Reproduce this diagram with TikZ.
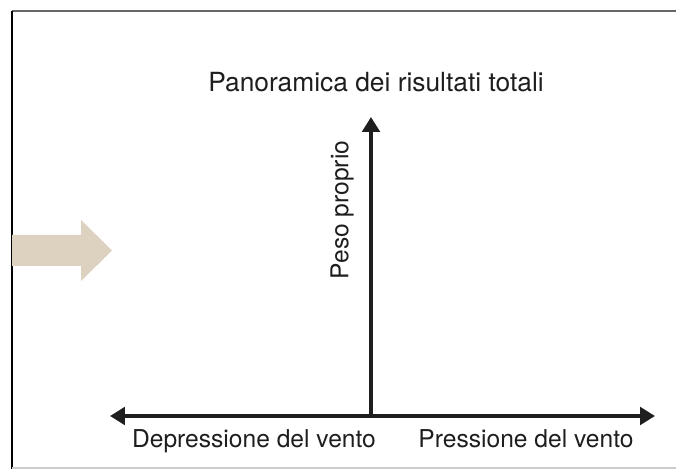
\documentclass[tikz,border=0pt]{standalone}
\usepackage{fontspec}
\setmainfont{TeX Gyre Heros}
\usetikzlibrary{arrows.meta}
\definecolor{beige}{RGB}{221,209,191}
\definecolor{ink}{RGB}{30,30,30}
\tikzset{
    axis/.style={line width=2.3pt, ink, {Triangle[length=0.3cm, width=0.35cm]}-{Triangle[length=0.3cm, width=0.35cm]}},
    uaxis/.style={line width=2.3pt, ink, -{Triangle[length=0.3cm, width=0.35cm]}},
    lbl/.style={font=\fontsize{14}{16}\selectfont, text=ink, inner sep=0pt}
}
\begin{document}
\begin{tikzpicture}[x=0.02cm, y=-0.02cm]
    \useasboundingbox (0, 0) rectangle (676, 469);
    % frame
    \draw [gray!80!black, line width=0.8pt] (12, 11) -- (676, 11);
    \draw [black, line width=0.8pt] (12, 11) -- (12, 469);
    \draw [gray!40, line width=0.8pt] (12, 468) -- (676, 468);

    % beige arrow
    \fill [beige] (12, 235) -- (81, 235) -- (81, 220) -- (112, 250.5)
        -- (81, 281) -- (81, 266) -- (12, 266) -- cycle;

    % axes
    \draw
        coordinate (origin) at (371, 416)
        coordinate (left) at (110, 416)
        coordinate (right) at (655, 416)
        coordinate (top) at (371, 117)
    ;
    \draw [axis] (left) -- (right);
    \draw [uaxis] (origin) -- (top);

    % labels
    \node [lbl, font=\fontsize{15}{17}\selectfont, anchor=base] (title) at (376, 92) {Panoramica dei risultati totali};
    \node [lbl, anchor=south, rotate=90] (peso) at (354, 210) {Peso proprio};
    \node [lbl, anchor=base] (depr) at (254, 447) {Depressione del vento};
    \node [lbl, anchor=base] (press) at (526, 447) {Pressione del vento};
\end{tikzpicture}
\end{document}
